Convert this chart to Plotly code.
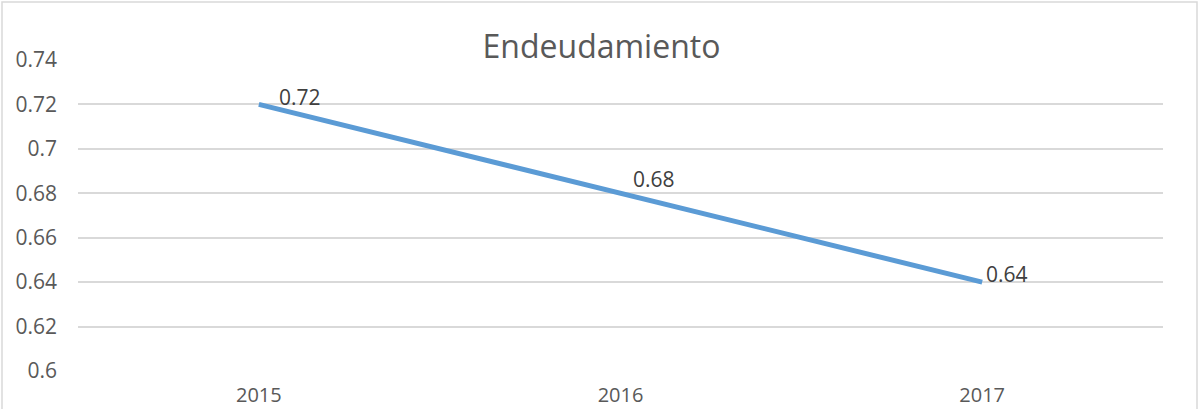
import plotly.graph_objects as go

years = ["2015", "2016", "2017"]
values = [0.72, 0.68, 0.64]
labels = ["0.72", "0.68", "0.64"]
title_text = "Endeudamiento"

FONT = "Open Sans"
GREY = "#595959"

# data-label pixel offsets (Excel placement)
label_dx = [18, 10, 2]
label_dy = [7, 14, 8]

fig = go.Figure()
fig.add_trace(go.Scatter(
    x=years, y=values, mode="lines",
    line=dict(color="#5B9BD5", width=5),
    hoverinfo="skip", showlegend=False,
))

for i, (y, t) in enumerate(zip(values, labels)):
    fig.add_annotation(x=i, y=y, xref="x", yref="y", text=t, showarrow=False,
                       xanchor="left", yanchor="middle",
                       xshift=label_dx[i], yshift=label_dy[i],
                       font=dict(family=FONT, size=21, color="#404040"))

W, H = 1203, 409
L, R, T, B = 78, 40, 60, 38
pw, ph = W - L - R, H - T - B

fig.add_shape(type="rect", xref="paper", yref="paper",
              x0=(2 - L) / pw, x1=(1197 - L) / pw,
              y0=(H - B - 420) / ph, y1=(H - B - 2) / ph,
              line=dict(color="#D9D9D9", width=1.5), fillcolor="rgba(0,0,0,0)", layer="below")

fig.update_layout(
    width=W, height=H,
    margin=dict(l=L, r=R, t=T, b=B, autoexpand=False),
    paper_bgcolor="white", plot_bgcolor="white",
    title=dict(text=title_text, x=0.5, xanchor="center", xref="container",
               y=1 - 47 / H, yanchor="middle", yref="container",
               font=dict(family=FONT, size=32, color=GREY)),
    xaxis=dict(type="category", range=[-0.5, 2.5], showgrid=False, zeroline=False,
               showline=False, ticks="", ticklabelstandoff=10, automargin=False,
               tickfont=dict(family=FONT, size=20, color=GREY)),
    yaxis=dict(range=[0.6, 0.74], tickvals=[0.6, 0.62, 0.64, 0.66, 0.68, 0.7, 0.72, 0.74],
               ticktext=["0.6", "0.62", "0.64", "0.66", "0.68", "0.7", "0.72", "0.74"],
               showgrid=True, gridcolor="#D9D9D9", gridwidth=1.5, zeroline=False,
               showline=False, ticks="", ticklabelstandoff=20, automargin=False,
               tickfont=dict(family=FONT, size=21, color=GREY)),
)

fig.write_html("out.html", config={"displayModeBar": False},
               post_script="document.body.style.margin='0px';")
